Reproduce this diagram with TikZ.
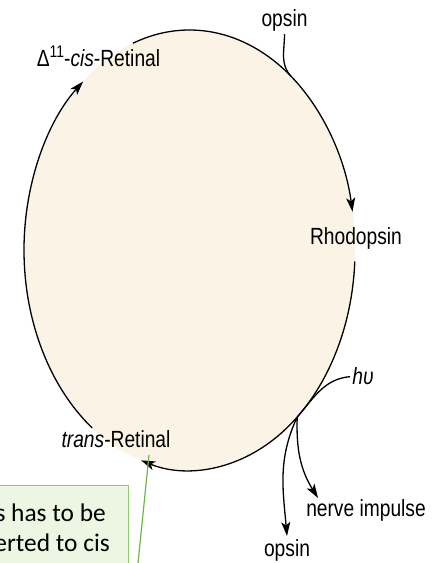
\documentclass[tikz,border=0pt]{standalone}
\usepackage{fontspec}
\setmainfont{Liberation Sans}[FakeStretch=0.82]
\newfontfamily\calloutfont{Carlito}
\usetikzlibrary{arrows.meta,calc}
\definecolor{cellfill}{RGB}{250,243,230}
\definecolor{notefill}{RGB}{236,246,227}
\definecolor{notedraw}{RGB}{146,200,112}
\definecolor{noteline}{RGB}{112,180,72}
\begin{document}
\begin{tikzpicture}[x=1bp,y=1bp,
  lab/.style={font=\fontsize{23.5}{26}\selectfont, inner sep=2bp, anchor=base},
  cyc/.style={line width=1.3bp, -{Stealth[length=14bp,width=9bp,inset=3.5bp]}},
  plain/.style={line width=1.3bp},
  notetext/.style={font=\calloutfont\fontsize{25.5}{30}\selectfont, inner sep=0pt, anchor=base east},
  ell/.style={x radius=165.5bp, y radius=220bp}]
\useasboundingbox (0,0) rectangle (440,563);
\begin{scope}
\clip (0,0) rectangle (440,563);
\coordinate (C) at (189.5,313);
\fill[cellfill] (C) ellipse [x radius=165.5bp, y radius=220bp];
% label nodes
\node[lab] (opsinA) at (284.5,536) {opsin};
\node[lab] (cis) at (98.5,496) {Δ\raisebox{0.42em}{\fontsize{17}{17}\selectfont 11}-\textit{cis}-Retinal};
\node[lab] (rho) at (356,318) {Rhodopsin};
\node[lab] (hv) at (363,178) {\textit{hυ}};
\node[lab] (trans) at (116,115) {\textit{trans}-Retinal};
\node[lab] (nerve) at (366,46) {nerve impulse};
\node[lab] (opsinB) at (287,6) {opsin};
% points on the cycle
\coordinate (a1s) at ($(C)+(110:165.5bp and 220bp)$);
\coordinate (a2s) at ($(C)+(-3:165.5bp and 220bp)$);
\coordinate (a3s) at ($(C)+(234:165.5bp and 220bp)$);
\coordinate (J1) at ($(C)+(52:165.5bp and 220bp)$);
\coordinate (J2) at ($(C)+(-49.4:165.5bp and 220bp)$);
\coordinate (nT) at (318,65);
\coordinate (oT) at (287,27);
% cycle arcs
\draw[cyc] (a1s) arc[start angle=110, end angle=10, ell];
\draw[cyc] (a2s) arc[start angle=-3, end angle=-107, ell];
\draw[cyc] (a3s) arc[start angle=234, end angle=130, ell];
% side branches
\draw[plain] (opsinA.south) to[out=270, in=134] (J1);
\draw[plain] (hv.west) to[out=185, in=49] (J2);
\draw[cyc] (J2) to[out=268, in=122] (nT);
\draw[cyc] (J2) to[out=245, in=95] (oT);
% callout
\coordinate (gTop) at (149,108);
\coordinate (gBot) at (137,-10);
\node[draw=notedraw, fill=notefill, line width=1.5bp, minimum width=200bp, minimum height=120bp, anchor=north east] (note) at (129,78) {};
\draw[noteline, line width=1.2bp] (gTop) -- (gBot);
\node[notetext] (l1) at (106,41) {s has to be};
\node[notetext] (l2) at (110,11) {erted to cis};
\end{scope}
\end{tikzpicture}
\end{document}
